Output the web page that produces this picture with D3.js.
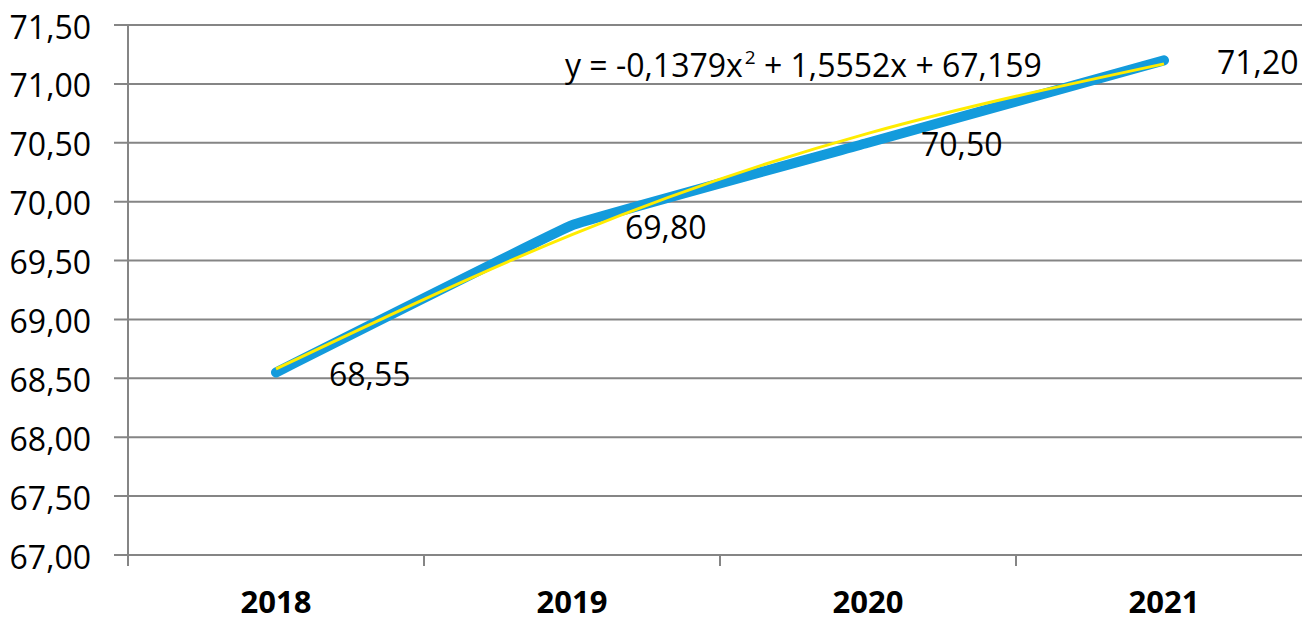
<!DOCTYPE html>
<html lang="en">
<head>
<meta charset="UTF-8">
<title>Trend 2018-2021</title>
<script src="https://d3js.org/d3.v7.min.js"></script>
<style>
  body { margin: 0; background: #fff; }
  text { font-family: "Open Sans", "Noto Sans", sans-serif; fill: #000; }
</style>
</head>
<body>
<div id="chart"></div>
<script>
const years = ["2018", "2019", "2020", "2021"];
const values = [68.55, 69.80, 70.50, 71.20];
// polynomial trendline read at each year
const trendValues = [68.58, 69.72, 70.58, 71.17];
const yTicks = [67, 67.5, 68, 68.5, 69, 69.5, 70, 70.5, 71, 71.5];
const equation = ["y = -0,1379x", "2", " + 1,5552x + 67,159"];

const width = 1302, height = 620;
const plotLeft = 128, plotTop = 25, plotBottom = 555;

const svg = d3.select("#chart").append("svg")
    .attr("width", width)
    .attr("height", height);

const x = d3.scaleBand().domain(years).range([plotLeft, plotLeft + 296 * 4]);
const y = d3.scaleLinear().domain([67, 71.5]).range([plotBottom, plotTop]);
const fmt = v => d3.format(".2f")(v).replace(".", ",");
const grey = "#858585";

// gridlines
svg.append("g").selectAll("line")
  .data(yTicks)
  .join("line")
    .attr("x1", plotLeft - 14).attr("x2", width)
    .attr("y1", d => y(d)).attr("y2", d => y(d))
    .attr("stroke", grey).attr("stroke-width", 2);

// y axis line
svg.append("line")
    .attr("x1", plotLeft).attr("x2", plotLeft)
    .attr("y1", plotTop).attr("y2", plotBottom + 11)
    .attr("stroke", grey).attr("stroke-width", 2);

// x ticks between categories
svg.append("g").selectAll("line")
  .data(years.slice(1))
  .join("line")
    .attr("x1", d => x(d)).attr("x2", d => x(d))
    .attr("y1", plotBottom).attr("y2", plotBottom + 11)
    .attr("stroke", grey).attr("stroke-width", 2);

// y labels
svg.append("g").selectAll("text")
  .data(yTicks)
  .join("text")
    .attr("x", plotLeft - 37)
    .attr("y", d => y(d) + 2)
    .attr("dy", "0.36em")
    .attr("text-anchor", "end")
    .style("font-size", "32px")
    .text(fmt);

// x labels
svg.append("g").selectAll("text")
  .data(years)
  .join("text")
    .attr("x", d => x(d) + x.bandwidth() / 2)
    .attr("y", 613)
    .attr("text-anchor", "middle")
    .style("font-size", "31px")
    .style("font-weight", "bold")
    .text(d => d);

const cx = d => x(d) + x.bandwidth() / 2;

// data line
svg.append("path")
    .datum(values)
    .attr("fill", "none")
    .attr("stroke", "#139bdc")
    .attr("stroke-width", 10)
    .attr("stroke-linecap", "round")
    .attr("stroke-linejoin", "round")
    .attr("d", d3.line().curve(d3.curveCardinal.tension(0.85)).x((d, i) => cx(years[i])).y(d => y(d)));

// trendline
svg.append("path")
    .datum(trendValues)
    .attr("fill", "none")
    .attr("stroke", "#ffec00")
    .attr("stroke-width", 3)
    .attr("d", d3.line().curve(d3.curveNatural).x((d, i) => cx(years[i])).y(d => y(d)));

// data labels
svg.append("g").selectAll("text")
  .data(values)
  .join("text")
    .attr("x", (d, i) => cx(years[i]) + 53)
    .attr("y", d => y(d) + 2)
    .attr("dy", "0.36em")
    .style("font-size", "32px")
    .text(fmt);

// equation
const eq = svg.append("text")
    .attr("x", 565)
    .attr("y", 77)
    .style("font-size", "32px");
eq.append("tspan").text(equation[0]);
eq.append("tspan").attr("dy", -13).attr("dx", 2).style("font-size", "19px").text(equation[1]);
eq.append("tspan").attr("dy", 13).text(equation[2]);
</script>
</body>
</html>
